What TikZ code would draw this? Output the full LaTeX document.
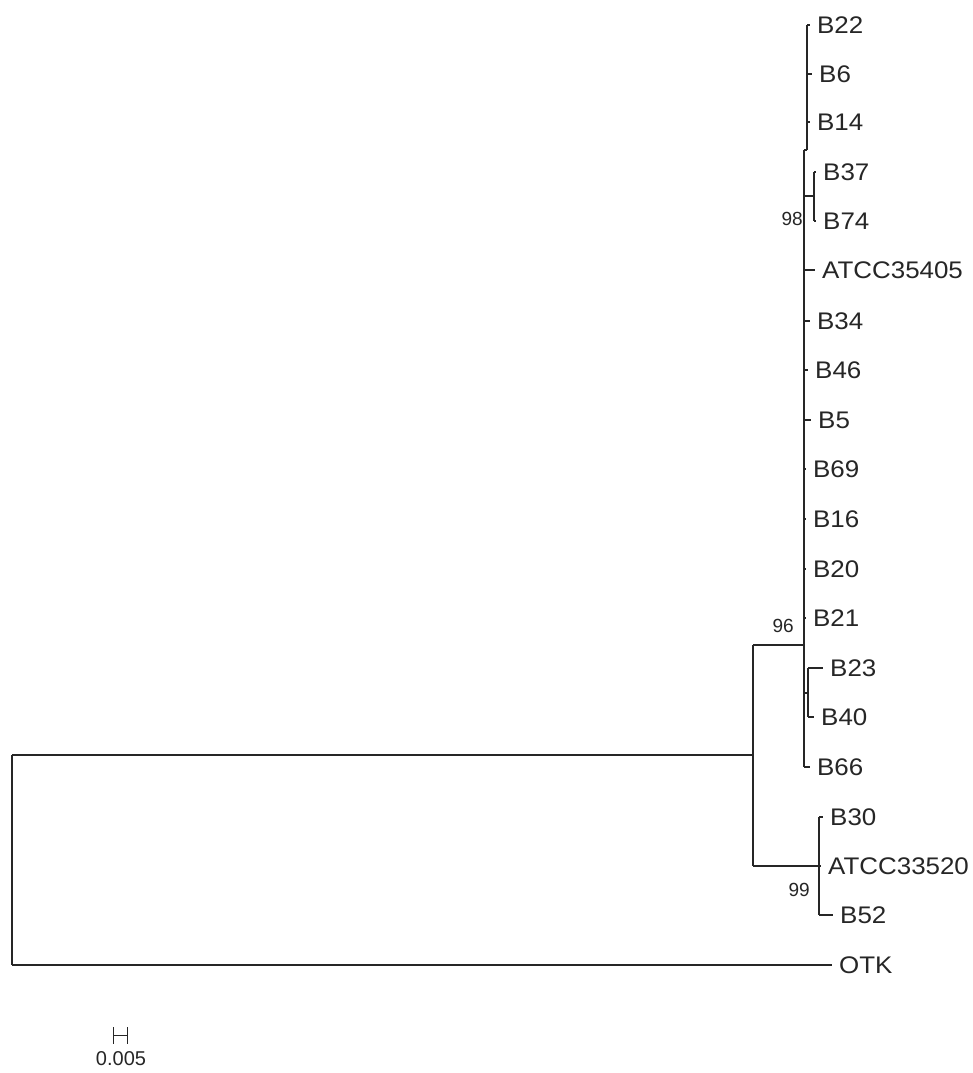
\documentclass[tikz,border=0pt]{standalone}
\usepackage{fontspec}
\setmainfont{Liberation Sans}
\newfontfamily\leaffont[FakeStretch=1.08]{Liberation Sans}
\begin{document}
\begin{tikzpicture}[x=1pt,y=-1pt,
  br/.style={draw=black!85, line width=1.2pt},
  leaf/.style={anchor=west, inner xsep=7pt, inner ysep=0pt, font=\leaffont\fontsize{24}{24}\selectfont, text=black!85},
  boot/.style={inner sep=0pt, font=\fontsize{19}{19}\selectfont, text=black!85}]
\useasboundingbox[fill=white] (0,0) rectangle (973,1073);
% internal nodes
\coordinate (root) at (12,755);
\coordinate (rootT) at (12,755);
\coordinate (rootB) at (12,965);
\coordinate (n1) at (753,755);
\coordinate (n1T) at (753,645);
\coordinate (n1B) at (753,866);
\coordinate (n96) at (804,645);
\coordinate (spT) at (804,150);
\coordinate (spB) at (804,767);
\coordinate (top) at (807,150);
\coordinate (topT) at (807,25);
\coordinate (n98) at (814,196);
\coordinate (n98T) at (814,172);
\coordinate (n98B) at (814,221);
\coordinate (n2340) at (808,693);
\coordinate (n2340T) at (808,668);
\coordinate (n2340B) at (808,717);
\coordinate (n99) at (819,866);
\coordinate (n99T) at (819,817);
\coordinate (n99B) at (819,915);
% leaves
\node[leaf] (B22) at (810,25) {B22};
\node[leaf] (B6) at (812,74) {B6};
\node[leaf] (B14) at (810,122) {B14};
\node[leaf] (B37) at (816,172) {B37};
\node[leaf] (B74) at (816,221) {B74};
\node[leaf] (A35405) at (815,270) {ATCC35405};
\node[leaf] (B34) at (810,321) {B34};
\node[leaf] (B46) at (808,370) {B46};
\node[leaf] (B5) at (811,420) {B5};
\node[leaf] (B69) at (806,469) {B69};
\node[leaf] (B16) at (806,519) {B16};
\node[leaf] (B20) at (806,569) {B20};
\node[leaf] (B21) at (806,618) {B21};
\node[leaf] (B23) at (823,668) {B23};
\node[leaf] (B40) at (814,717) {B40};
\node[leaf] (B66) at (810,767) {B66};
\node[leaf] (B30) at (823,817) {B30};
\node[leaf] (A33520) at (821,866) {ATCC33520};
\node[leaf] (B52) at (833,915) {B52};
\node[leaf] (OTK) at (832,965) {OTK};
% bootstrap labels
\node[boot, anchor=east] (b98) at (803,219) {98};
\node[boot, anchor=east] (b96) at (794,626) {96};
\node[boot, anchor=east] (b99) at (810,890) {99};
% root
\draw[br] (rootT) -- (rootB);
\draw[br] (root) -- (n1);
\draw[br] (rootB) -- (OTK.west);
% n1
\draw[br] (n1T) -- (n1B);
\draw[br] (n1T) -- (n96);
\draw[br] (n1B) -- (n99);
% n99
\draw[br] (n99T) -- (n99B);
\draw[br] (n99T) -- (B30.west);
\draw[br] (n99) -- (A33520.west);
\draw[br] (n99B) -- (B52.west);
% n96 spine
\draw[br] (spT) -- (spB);
\draw[br] (spT) -- (top);
\draw[br] (topT) -- (top);
\draw[br] (topT) -- (B22.west);
\draw[br] (807,74) -- (B6.west);
\draw[br] (807,122) -- (B14.west);
\draw[br] (804,196) -- (n98);
\draw[br] (n98T) -- (n98B);
\draw[br] (n98T) -- (B37.west);
\draw[br] (n98B) -- (B74.west);
\draw[br] (804,270) -- (A35405.west);
\draw[br] (804,321) -- (B34.west);
\draw[br] (804,370) -- (B46.west);
\draw[br] (804,420) -- (B5.west);
\draw[br] (804,469) -- (B69.west);
\draw[br] (804,519) -- (B16.west);
\draw[br] (804,569) -- (B20.west);
\draw[br] (804,618) -- (B21.west);
\draw[br] (804,693) -- (n2340);
\draw[br] (n2340T) -- (n2340B);
\draw[br] (n2340T) -- (B23.west);
\draw[br] (n2340B) -- (B40.west);
\draw[br] (spB) -- (B66.west);
% scale bar
\coordinate (sL) at (113,1035);
\coordinate (sR) at (127,1035);
\draw[br, line width=1pt] (sL) -- (sR);
\draw[br, line width=1pt] (113,1027) -- (113,1044);
\draw[br, line width=1pt] (127,1027) -- (127,1044);
\node[boot, font=\fontsize{20}{20}\selectfont] (scale) at (121,1059) {0.005};
\end{tikzpicture}
\end{document}
